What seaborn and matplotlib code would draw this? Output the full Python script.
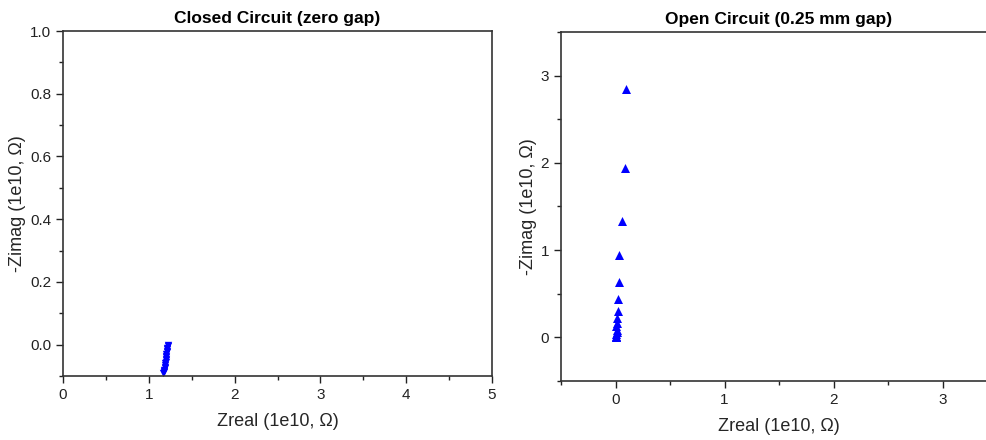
import matplotlib
matplotlib.use("Agg")
import matplotlib.pyplot as plt
from matplotlib.ticker import MultipleLocator
import seaborn as sns
import pandas as pd

# closed circuit (zero gap), units of 1e10 ohm
closed_zreal = [1.22, 1.22, 1.215, 1.215, 1.21, 1.21, 1.205, 1.205, 1.2, 1.2,
                1.195, 1.195, 1.19, 1.19, 1.185, 1.185, 1.18, 1.18, 1.175, 1.17]
closed_zimag = [0.0, -0.005, -0.01, -0.015, -0.02, -0.025, -0.03, -0.035, -0.04, -0.045,
                -0.05, -0.055, -0.06, -0.065, -0.07, -0.075, -0.08, -0.083, -0.087, -0.09]

# open circuit (0.25 mm gap)
open_zreal = [0.10, 0.09, 0.06, 0.03, 0.03, 0.025, 0.02, 0.015, 0.01, 0.005,
              0.015, 0.01, 0.005, 0.0, 0.0, 0.0]
open_zimag = [2.85, 1.94, 1.33, 0.94, 0.64, 0.44, 0.30, 0.22, 0.17, 0.13,
              0.09, 0.06, 0.04, 0.02, 0.01, 0.0]

sns.set_style("white")
plt.rcParams["font.family"] = ["Liberation Sans", "DejaVu Sans"]
plt.rcParams["xtick.direction"] = "out"
plt.rcParams["ytick.direction"] = "out"

fig = plt.figure(figsize=(9.86, 4.4), dpi=100)
ax1 = fig.add_axes([63 / 986, 64 / 440, 429 / 986, 345 / 440])
ax2 = fig.add_axes([561 / 986, 59 / 440, 436 / 986, 349 / 440])

df_c = pd.DataFrame({"zreal": closed_zreal, "zimag": closed_zimag})
df_o = pd.DataFrame({"zreal": open_zreal, "zimag": open_zimag})

sns.scatterplot(data=df_c, x="zreal", y="zimag", marker="v", color="blue",
                s=28, linewidth=0, ax=ax1)
sns.scatterplot(data=df_o, x="zreal", y="zimag", marker="^", color="blue",
                s=42, linewidth=0, ax=ax2)

ax1.set_xlim(0, 5)
ax1.set_ylim(-0.1, 1.0)
ax1.xaxis.set_major_locator(MultipleLocator(1))
ax1.xaxis.set_minor_locator(MultipleLocator(0.5))
ax1.yaxis.set_major_locator(MultipleLocator(0.2))
ax1.yaxis.set_minor_locator(MultipleLocator(0.1))
ax1.set_yticks([0.0, 0.2, 0.4, 0.6, 0.8, 1.0])
ax1.set_title("Closed Circuit (zero gap)", fontsize=12.5, fontweight="bold",
              color="black", pad=6)

ax2.set_xlim(-0.5, 3.5)
ax2.set_ylim(-0.5, 3.5)
ax2.xaxis.set_major_locator(MultipleLocator(1))
ax2.xaxis.set_minor_locator(MultipleLocator(0.5))
ax2.yaxis.set_major_locator(MultipleLocator(1))
ax2.yaxis.set_minor_locator(MultipleLocator(0.5))
ax2.set_title("Open Circuit (0.25 mm gap)", fontsize=12.5, fontweight="bold",
              color="black", pad=6)

for ax in (ax1, ax2):
    ax.set_xlabel("Zreal (1e10, Ω)", fontsize=13, labelpad=8)
    ax.set_ylabel("-Zimag (1e10, Ω)", fontsize=13, labelpad=3)
    ax.tick_params(which="major", length=5, width=1, labelsize=11, colors="#222222",
                   bottom=True, left=True, top=False, right=False)
    ax.tick_params(which="minor", length=3, width=1, bottom=True, left=True,
                   top=False, right=False, color="#222222")
    for sp in ax.spines.values():
        sp.set_color("#333333")
        sp.set_linewidth(1.2)

fig.savefig("out.png", dpi=100)
plt.close(fig)
